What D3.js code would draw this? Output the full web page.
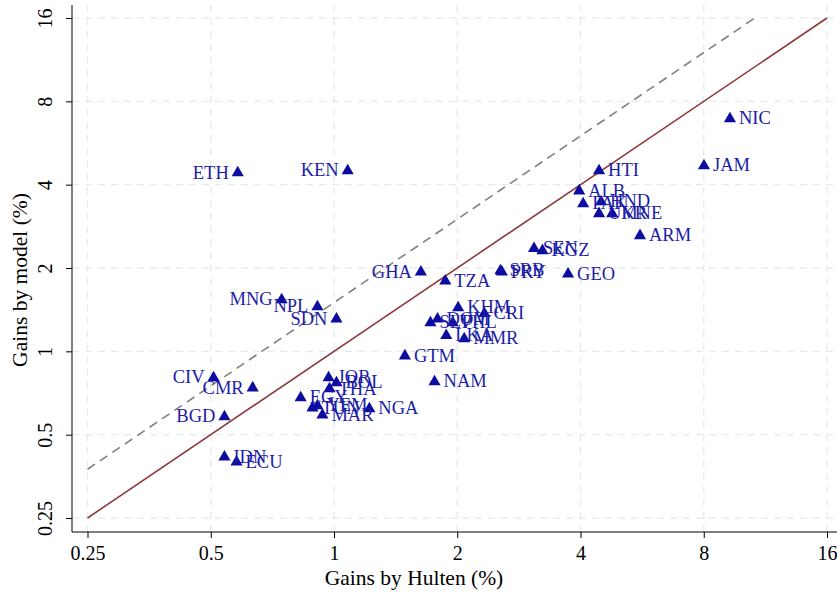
<!DOCTYPE html>
<html>
<head>
<meta charset="utf-8">
<script src="https://cdn.jsdelivr.net/npm/d3@7"></script>
<style>
  body { margin: 0; background: #fff; }
  text { font-family: "Liberation Serif", "DejaVu Serif", serif; }
</style>
</head>
<body>
<script>
// Gains by model vs gains by Hulten (log2 axes)
const countries = ["NIC","JAM","HTI","ALB","PAK","HND","UKR","MNE","ARM","SEN","KGZ","SRB","PRY","GEO",
  "GHA","TZA","KHM","CRI","DOM","SLV","PHL","LKA","MMR","GTM","NAM","JOR","BOL","THA","EGY","TUN","YEM",
  "MAR","NGA","ETH","KEN","MNG","NPL","SDN","CIV","CMR","BGD","IDN","ECU"]
const hulten = [9.27,8.01,4.44,3.97,4.06,4.49,4.44,4.78,5.59,3.08,3.23,2.55,2.57,3.73,
  1.63,1.87,2.01,2.33,1.79,1.72,1.95,1.88,2.08,1.49,1.76,0.97,1.014,0.975,0.829,0.886,0.911,
  0.937,1.22,0.582,1.08,0.745,0.911,1.014,0.508,0.633,0.540,0.540,0.578]
const model = [6.98,4.72,4.53,3.83,3.44,3.50,3.17,3.17,2.64,2.37,2.33,1.97,1.95,1.92,
  1.95,1.81,1.45,1.38,1.32,1.28,1.28,1.15,1.12,0.971,0.783,0.809,0.776,0.738,0.685,0.630,0.641,
  0.594,0.625,4.45,4.53,1.55,1.46,1.32,0.809,0.744,0.585,0.419,0.402]
// labels drawn on the left of the marker
const leftLabels = ["ETH","KEN","MNG","NPL","SDN","CIV","CMR","BGD","GHA"]
const ticks = [0.25, 0.5, 1, 2, 4, 8, 16]
const tickLabels = ["0.25", "0.5", "1", "2", "4", "8", "16"]

const data = countries.map((c, i) => ({name: c, x: hulten[i], y: model[i]}))

const w = 837, h = 592
const svg = d3.select("body").append("svg").attr("width", w).attr("height", h)

const xScale = d3.scaleLog().base(2).domain([0.25, 16]).range([87.5, 827])
const yScale = d3.scaleLog().base(2).domain([0.25, 16]).range([518, 18])
const axisY = 532, axisX = 72

// grid
const grid = svg.append("g")
grid.selectAll(".gx").data(ticks).enter().append("line")
  .attr("x1", d => xScale(d)).attr("x2", d => xScale(d))
  .attr("y1", 5).attr("y2", axisY)
  .attr("stroke", "#e3ebef").attr("stroke-width", 1.3).attr("stroke-dasharray", "7,6")
grid.selectAll(".gy").data(ticks).enter().append("line")
  .attr("y1", d => yScale(d)).attr("y2", d => yScale(d))
  .attr("x1", axisX).attr("x2", w)
  .attr("stroke", "#e3ebef").attr("stroke-width", 1.3).attr("stroke-dasharray", "7,6")

// reference lines: 45 degree and 1.5x
const line = d3.line().x(d => xScale(d[0])).y(d => yScale(d[1]))
svg.append("path").datum([[0.25, 0.25], [16, 16]]).attr("d", line)
  .attr("stroke", "#8e3b3f").attr("stroke-width", 1.6).attr("fill", "none")
svg.append("path").datum([[0.25, 0.375], [16 / 1.5, 16]]).attr("d", line)
  .attr("stroke", "#808080").attr("stroke-width", 1.6).attr("fill", "none")
  .attr("stroke-dasharray", "9,6")

// axes
const xAxis = d3.axisBottom(xScale).tickValues(ticks).tickFormat((d, i) => tickLabels[i]).tickSize(6).tickSizeOuter(0)
const gx = svg.append("g").attr("transform", "translate(0," + axisY + ")").call(xAxis)
gx.select(".domain").remove()
gx.selectAll("text").attr("font-size", 20).attr("fill", "#000").attr("dy", "0.95em")
gx.selectAll("line").attr("stroke", "#000")

const yAxis = d3.axisLeft(yScale).tickValues(ticks).tickFormat((d, i) => tickLabels[i]).tickSize(6).tickSizeOuter(0)
const gy = svg.append("g").attr("transform", "translate(" + axisX + ",0)").call(yAxis)
gy.select(".domain").remove()
gy.selectAll("line").attr("stroke", "#000")
gy.selectAll("text").attr("font-size", 20).attr("fill", "#000")
  .attr("text-anchor", "middle").attr("x", 0).attr("dy", 0)
  .attr("transform", "translate(-20,0) rotate(-90)")

svg.append("line").attr("x1", axisX).attr("x2", w).attr("y1", axisY).attr("y2", axisY).attr("stroke", "#000")
svg.append("line").attr("x1", axisX).attr("x2", axisX).attr("y1", 5).attr("y2", axisY).attr("stroke", "#000")

// titles
svg.append("text").attr("x", 414).attr("y", 585).attr("text-anchor", "middle")
  .attr("font-size", 21.5).text("Gains by Hulten (%)")
svg.append("text").attr("transform", "translate(27,280) rotate(-90)").attr("text-anchor", "middle")
  .attr("font-size", 21.5).text("Gains by model (%)")

// points
svg.selectAll(".pt").data(data).enter().append("path")
  .attr("d", d3.symbol().type(d3.symbolTriangle).size(64))
  .attr("transform", d => "translate(" + xScale(d.x) + "," + (yScale(d.y) + 1) + ")")
  .attr("fill", "#0c0ca0")

svg.selectAll(".lbl").data(data).enter().append("text")
  .attr("x", d => leftLabels.includes(d.name) ? xScale(d.x) - 9 : xScale(d.x) + 9)
  .attr("y", d => yScale(d.y))
  .attr("dy", "0.36em")
  .attr("text-anchor", d => leftLabels.includes(d.name) ? "end" : "start")
  .attr("font-size", 18.5).attr("fill", "#1c1ca8")
  .text(d => d.name)
</script>
</body>
</html>
